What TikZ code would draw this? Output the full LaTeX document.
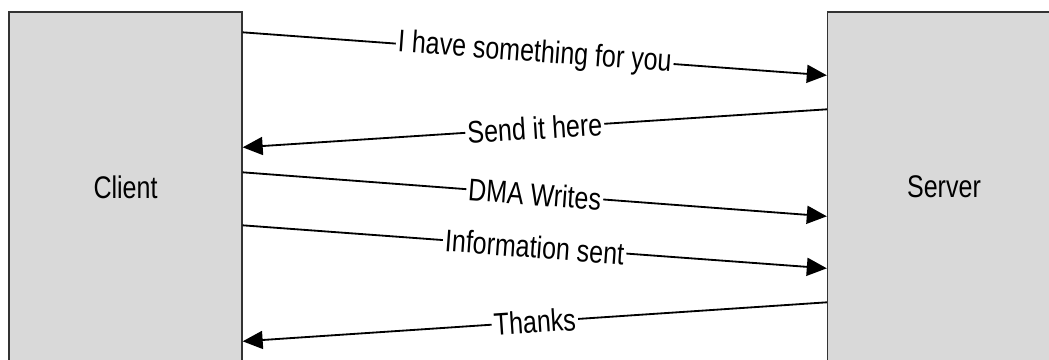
\documentclass[tikz,border=0pt]{standalone}
\usepackage{fontspec}
\setmainfont{Liberation Sans}
\usetikzlibrary{arrows.meta,positioning,calc}
\definecolor{boxgray}{HTML}{D9D9D9}
\newcommand{\tallfont}[1]{\scalebox{1}[1.25]{#1}}
\tikzset{
    hostbox/.style={
        rectangle,                % caja de cada extremo
        draw=black!80,
        fill=boxgray,
        line width=0.9pt,
        minimum width=5.825cm,
        minimum height=8.75cm,
        font=\fontsize{17.8}{20}\selectfont
    },
    msgarrow/.style={
        -{Triangle[length=0.5cm,width=0.45cm]},
        line width=1.3pt
    },
    msglabel/.style={
        midway,
        sloped,
        fill=white,
        inner sep=1.5pt,
        font=\fontsize{17.8}{20}\selectfont
    }
}

\begin{document}
\begin{tikzpicture}[x=0.025cm,y=-0.025cm]
    \clip (0,0) rectangle (1049,360);
    \node[hostbox] (client) at (125.5,187) {\tallfont{Client}};
    \node[hostbox, right=14.6cm of client] (server) {\tallfont{Server}};

    \draw[msgarrow] ($(client.north east)+(0,21)$) -- ($(server.north west)+(0,64)$)
        node[msglabel] (have) {\tallfont{I have something for you}};
    \draw[msgarrow] ($(server.north west)+(0,98)$) -- ($(client.north east)+(0,136)$)
        node[msglabel] (send) {\tallfont{Send it here}};
    \draw[msgarrow] ($(client.north east)+(0,161)$) -- ($(server.north west)+(0,205)$)
        node[msglabel] (dma) {\tallfont{DMA Writes}};
    \draw[msgarrow] ($(client.north east)+(0,214)$) -- ($(server.north west)+(0,257)$)
        node[msglabel] (info) {\tallfont{Information sent}};
    \draw[msgarrow] ($(server.north west)+(0,291)$) -- ($(client.north east)+(0,330)$)
        node[msglabel] (thanks) {\tallfont{Thanks}};
\end{tikzpicture}
\end{document}
